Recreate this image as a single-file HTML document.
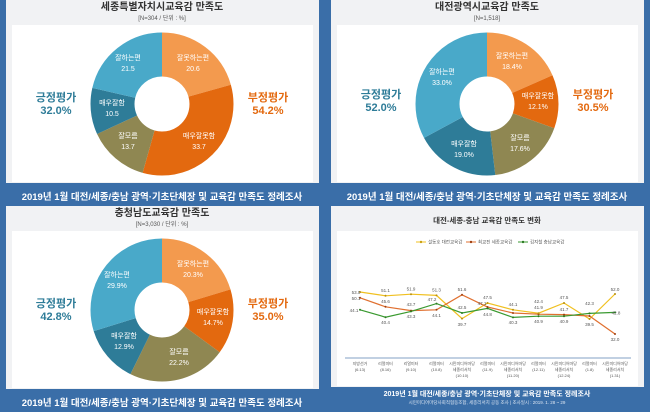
<!DOCTYPE html>
<html><head><meta charset="utf-8"><style>
html,body{margin:0;padding:0;background:#3a6ea8;}
svg{display:block;font-family:"Liberation Sans","Noto Sans CJK KR",sans-serif;}
</style></head><body>
<svg width="650" height="412" viewBox="0 0 650 412" xmlns="http://www.w3.org/2000/svg">
<rect width="650" height="412" fill="#3a6ea8"/>

<!-- Panel 1: Sejong -->
<g transform="translate(0,0)">
<rect x="6" y="0" width="313" height="183" fill="#f1f2f4"/>
<rect x="12" y="25" width="301" height="157" fill="#fff"/>
<text x="162" y="10" font-size="10" font-weight="bold" fill="#333" text-anchor="middle">세종특별자치시교육감 만족도</text>
<text x="162" y="20" font-size="6" fill="#555" text-anchor="middle">[N=304 / 단위 : %]</text>
<g transform="rotate(-90 162 104)" fill="none" stroke-width="44">
<circle cx="162" cy="104" r="49.5" stroke="#f39a4e" stroke-dasharray="64.07 311.02"/>
<circle cx="162" cy="104" r="49.5" stroke="#e3690f" stroke-dasharray="0 64.07 104.81 311.02"/>
<circle cx="162" cy="104" r="49.5" stroke="#8f8752" stroke-dasharray="0 168.88 42.61 311.02"/>
<circle cx="162" cy="104" r="49.5" stroke="#2e7c98" stroke-dasharray="0 211.49 32.66 311.02"/>
<circle cx="162" cy="104" r="49.5" stroke="#49a9c9" stroke-dasharray="0 244.15 66.87 311.02"/>
</g>
<g font-size="7" fill="#fff" text-anchor="middle">
<text x="193" y="60">잘못하는편</text><text x="193" y="71">20.6</text>
<text x="199" y="138">매우잘못함</text><text x="199" y="149">33.7</text>
<text x="128" y="138">잘모름</text><text x="128" y="149">13.7</text>
<text x="112" y="105">매우잘함</text><text x="112" y="116">10.5</text>
<text x="128" y="60">잘하는편</text><text x="128" y="71">21.5</text>
</g>
<text x="56" y="101" font-size="11" font-weight="bold" fill="#2e7c98" text-anchor="middle">긍정평가</text>
<text x="56" y="114" font-size="11" font-weight="bold" fill="#2e7c98" text-anchor="middle">32.0%</text>
<text x="268" y="101" font-size="11" font-weight="bold" fill="#e3690f" text-anchor="middle">부정평가</text>
<text x="268" y="114" font-size="11" font-weight="bold" fill="#e3690f" text-anchor="middle">54.2%</text>
<text x="162" y="200" font-size="9.5" font-weight="bold" fill="#fff" text-anchor="middle">2019년 1월 대전/세종/충남 광역·기초단체장 및 교육감 만족도 정례조사</text>
</g>

<!-- Panel 2: Daejeon -->
<g transform="translate(325,0)">
<rect x="6" y="0" width="313" height="183" fill="#f1f2f4"/>
<rect x="12" y="25" width="301" height="157" fill="#fff"/>
<text x="162" y="10" font-size="10" font-weight="bold" fill="#333" text-anchor="middle">대전광역시교육감 만족도</text>
<text x="162" y="20" font-size="6" fill="#555" text-anchor="middle">[N=1,518]</text>
<g transform="rotate(-90 162 104)" fill="none" stroke-width="44">
<circle cx="162" cy="104" r="49.5" stroke="#f39a4e" stroke-dasharray="57.17 311.02"/>
<circle cx="162" cy="104" r="49.5" stroke="#e3690f" stroke-dasharray="0 57.17 37.60 311.02"/>
<circle cx="162" cy="104" r="49.5" stroke="#8f8752" stroke-dasharray="0 94.77 54.68 311.02"/>
<circle cx="162" cy="104" r="49.5" stroke="#2e7c98" stroke-dasharray="0 149.45 59.03 311.02"/>
<circle cx="162" cy="104" r="49.5" stroke="#49a9c9" stroke-dasharray="0 208.48 102.54 311.02"/>
</g>
<g font-size="7" fill="#fff" text-anchor="middle">
<text x="187" y="58">잘못하는편</text><text x="187" y="69">18.4%</text>
<text x="213" y="98">매우잘못함</text><text x="213" y="109">12.1%</text>
<text x="195" y="140">잘모름</text><text x="195" y="151">17.6%</text>
<text x="139" y="146">매우잘함</text><text x="139" y="157">19.0%</text>
<text x="117" y="74">잘하는편</text><text x="117" y="85">33.0%</text>
</g>
<text x="56" y="98" font-size="11" font-weight="bold" fill="#2e7c98" text-anchor="middle">긍정평가</text>
<text x="56" y="111" font-size="11" font-weight="bold" fill="#2e7c98" text-anchor="middle">52.0%</text>
<text x="268" y="98" font-size="11" font-weight="bold" fill="#e3690f" text-anchor="middle">부정평가</text>
<text x="268" y="111" font-size="11" font-weight="bold" fill="#e3690f" text-anchor="middle">30.5%</text>
<text x="162" y="200" font-size="9.5" font-weight="bold" fill="#fff" text-anchor="middle">2019년 1월 대전/세종/충남 광역·기초단체장 및 교육감 만족도 정례조사</text>
</g>

<!-- Panel 3: Chungnam -->
<g transform="translate(0,206)">
<rect x="6" y="0" width="313" height="183" fill="#f1f2f4"/>
<rect x="12" y="25" width="301" height="157" fill="#fff"/>
<text x="162" y="10" font-size="10" font-weight="bold" fill="#333" text-anchor="middle">충청남도교육감 만족도</text>
<text x="162" y="20" font-size="6" fill="#555" text-anchor="middle">[N=3,030 / 단위 : %]</text>
<g transform="rotate(-90 162 104)" fill="none" stroke-width="44">
<circle cx="162" cy="104" r="49.5" stroke="#f39a4e" stroke-dasharray="63.14 311.02"/>
<circle cx="162" cy="104" r="49.5" stroke="#e3690f" stroke-dasharray="0 63.14 45.72 311.02"/>
<circle cx="162" cy="104" r="49.5" stroke="#8f8752" stroke-dasharray="0 108.86 69.05 311.02"/>
<circle cx="162" cy="104" r="49.5" stroke="#2e7c98" stroke-dasharray="0 177.91 40.12 311.02"/>
<circle cx="162" cy="104" r="49.5" stroke="#49a9c9" stroke-dasharray="0 218.03 92.99 311.02"/>
</g>
<g font-size="7" fill="#fff" text-anchor="middle">
<text x="193" y="60">잘못하는편</text><text x="193" y="71">20.3%</text>
<text x="213" y="108">매우잘못함</text><text x="213" y="119">14.7%</text>
<text x="179" y="148">잘모름</text><text x="179" y="159">22.2%</text>
<text x="124" y="132">매우잘함</text><text x="124" y="143">12.9%</text>
<text x="117" y="71">잘하는편</text><text x="117" y="82">29.9%</text>
</g>
<text x="56" y="101" font-size="11" font-weight="bold" fill="#2e7c98" text-anchor="middle">긍정평가</text>
<text x="56" y="114" font-size="11" font-weight="bold" fill="#2e7c98" text-anchor="middle">42.8%</text>
<text x="268" y="101" font-size="11" font-weight="bold" fill="#e3690f" text-anchor="middle">부정평가</text>
<text x="268" y="114" font-size="11" font-weight="bold" fill="#e3690f" text-anchor="middle">35.0%</text>
<text x="162" y="200" font-size="9.5" font-weight="bold" fill="#fff" text-anchor="middle">2019년 1월 대전/세종/충남 광역·기초단체장 및 교육감 만족도 정례조사</text>
</g>

<!-- Panel 4: line chart -->
<g transform="translate(325,206)">
<rect x="6" y="0" width="313" height="181" fill="#f1f2f4"/>
<rect x="12" y="25" width="301" height="155" fill="#fff"/>
<text x="162" y="17" font-size="7.5" font-weight="bold" fill="#333" text-anchor="middle">대전-세종-충남 교육감 만족도 변화</text>
<g font-size="4.5" fill="#555">
<line x1="91" y1="36" x2="101" y2="36" stroke="#f0c020" stroke-width="1"/><circle cx="96" cy="36" r="1.2" fill="#c8a010"/>
<text x="103" y="37.5">설동호 대전교육감</text>
<line x1="141" y1="36" x2="151" y2="36" stroke="#e07030" stroke-width="1"/><circle cx="146" cy="36" r="1.2" fill="#a04010"/>
<text x="153" y="37.5">최교진 세종교육감</text>
<line x1="193" y1="36" x2="203" y2="36" stroke="#3a9a30" stroke-width="1"/><circle cx="198" cy="36" r="1.2" fill="#2a7a20"/>
<text x="205" y="37.5">김지철 충남교육감</text>
</g>
<line x1="20" y1="152" x2="306" y2="152" stroke="#5a80b0" stroke-width="0.8"/>
<!-- y = 86 + (53 - v)*2 ; x = 35 + i*25.5 -->
<polyline fill="none" stroke="#f0c020" stroke-width="1.2" points="35,86 60.5,89.8 86,88.2 111.5,89.4 137,112.6 162.5,97 188,103.8 213.5,107.2 239,97 264.5,113 290,88"/>
<polyline fill="none" stroke="#e07030" stroke-width="1.2" points="35,91.8 60.5,100.8 86,104.6 111.5,103.8 137,88.8 162.5,101 188,107 213.5,108.2 239,108.6 264.5,110 290,128"/>
<polyline fill="none" stroke="#3a9a30" stroke-width="1.2" points="35,103.8 60.5,111.2 86,105.4 111.5,97.6 137,107 162.5,102.4 188,111.4 213.5,110.2 239,110.2 264.5,107.4 290,106.4"/>
<g fill="#a04010">
<circle cx="35" cy="91.8" r="1"/><circle cx="60.5" cy="100.8" r="1"/><circle cx="86" cy="104.6" r="1"/><circle cx="111.5" cy="103.8" r="1"/><circle cx="137" cy="88.8" r="1"/><circle cx="162.5" cy="101" r="1"/><circle cx="188" cy="107" r="1"/><circle cx="213.5" cy="108.2" r="1"/><circle cx="239" cy="108.6" r="1"/><circle cx="264.5" cy="110" r="1"/><circle cx="290" cy="128" r="1"/>
</g>
<g fill="#b89010">
<circle cx="35" cy="86" r="1"/><circle cx="60.5" cy="89.8" r="1"/><circle cx="86" cy="88.2" r="1"/><circle cx="111.5" cy="89.4" r="1"/><circle cx="137" cy="112.6" r="1"/><circle cx="162.5" cy="97" r="1"/><circle cx="188" cy="103.8" r="1"/><circle cx="213.5" cy="107.2" r="1"/><circle cx="239" cy="97" r="1"/><circle cx="264.5" cy="113" r="1"/><circle cx="290" cy="88" r="1"/>
</g>
<g fill="#2a7a20">
<circle cx="35" cy="103.8" r="1"/><circle cx="60.5" cy="111.2" r="1"/><circle cx="86" cy="105.4" r="1"/><circle cx="111.5" cy="97.6" r="1"/><circle cx="137" cy="107" r="1"/><circle cx="162.5" cy="102.4" r="1"/><circle cx="188" cy="111.4" r="1"/><circle cx="213.5" cy="110.2" r="1"/><circle cx="239" cy="110.2" r="1"/><circle cx="264.5" cy="107.4" r="1"/><circle cx="290" cy="106.4" r="1"/>
</g>
<g font-size="4.5" fill="#555" text-anchor="middle">
<text x="31" y="88">53.0</text><text x="31" y="94">50.1</text><text x="29" y="106">44.1</text>
<text x="60.5" y="86">51.1</text><text x="60.5" y="97">45.6</text><text x="60.5" y="118">40.4</text>
<text x="86" y="84.5">51.9</text><text x="86" y="100">43.7</text><text x="86" y="112">43.3</text>
<text x="111.5" y="85.5">51.3</text><text x="107" y="95">47.2</text><text x="111.5" y="111">44.1</text>
<text x="137" y="85">51.6</text><text x="137" y="103">42.5</text><text x="137" y="120">39.7</text>
<text x="162.5" y="93">47.5</text><text x="157" y="99">47.1</text><text x="162.5" y="110">44.8</text>
<text x="188" y="100">44.1</text><text x="188" y="118">40.3</text>
<text x="213.5" y="97">42.4</text><text x="213.5" y="103">41.9</text><text x="213.5" y="117">40.9</text>
<text x="239" y="93">47.5</text><text x="239" y="105">41.7</text><text x="239" y="117">40.9</text>
<text x="264.5" y="99">42.3</text><text x="264.5" y="120">39.5</text>
<text x="290" y="85">52.0</text><text x="291" y="108.5">42.8</text><text x="290" y="135">32.0</text>
</g>
<g font-size="4" fill="#555" text-anchor="middle">
<text x="35" y="159">지방선거</text><text x="35" y="165">(6.13)</text>
<text x="60.5" y="159">리얼미터</text><text x="60.5" y="165">(8.16)</text>
<text x="86" y="159">리얼미터</text><text x="86" y="165">(9.10)</text>
<text x="111.5" y="159">리얼미터</text><text x="111.5" y="165">(10.8)</text>
<text x="137" y="159">시민미디어마당</text><text x="137" y="165">세종리서치</text><text x="137" y="171">(10.10)</text>
<text x="162.5" y="159">리얼미터</text><text x="162.5" y="165">(11.9)</text>
<text x="188" y="159">시민미디어마당</text><text x="188" y="165">세종리서치</text><text x="188" y="171">(11.20)</text>
<text x="213.5" y="159">리얼미터</text><text x="213.5" y="165">(12.11)</text>
<text x="239" y="159">시민미디어마당</text><text x="239" y="165">세종리서치</text><text x="239" y="171">(12.24)</text>
<text x="264.5" y="159">리얼미터</text><text x="264.5" y="165">(1.8)</text>
<text x="290" y="159">시민미디어마당</text><text x="290" y="165">세종리서치</text><text x="290" y="171">(1.31)</text>
</g>
<text x="162" y="190" font-size="7" font-weight="bold" fill="#fff" text-anchor="middle">2019년 1월 대전/세종/충남 광역·기초단체장 및 교육감 만족도 정례조사</text>
<text x="162" y="198" font-size="4.5" fill="#dde6f2" text-anchor="middle">시민미디어마당사회적협동조합, 세종리서치 공동 조사 | 조사일시 : 2019. 1. 28 ~ 29</text>
</g>
</svg>
</body></html>
